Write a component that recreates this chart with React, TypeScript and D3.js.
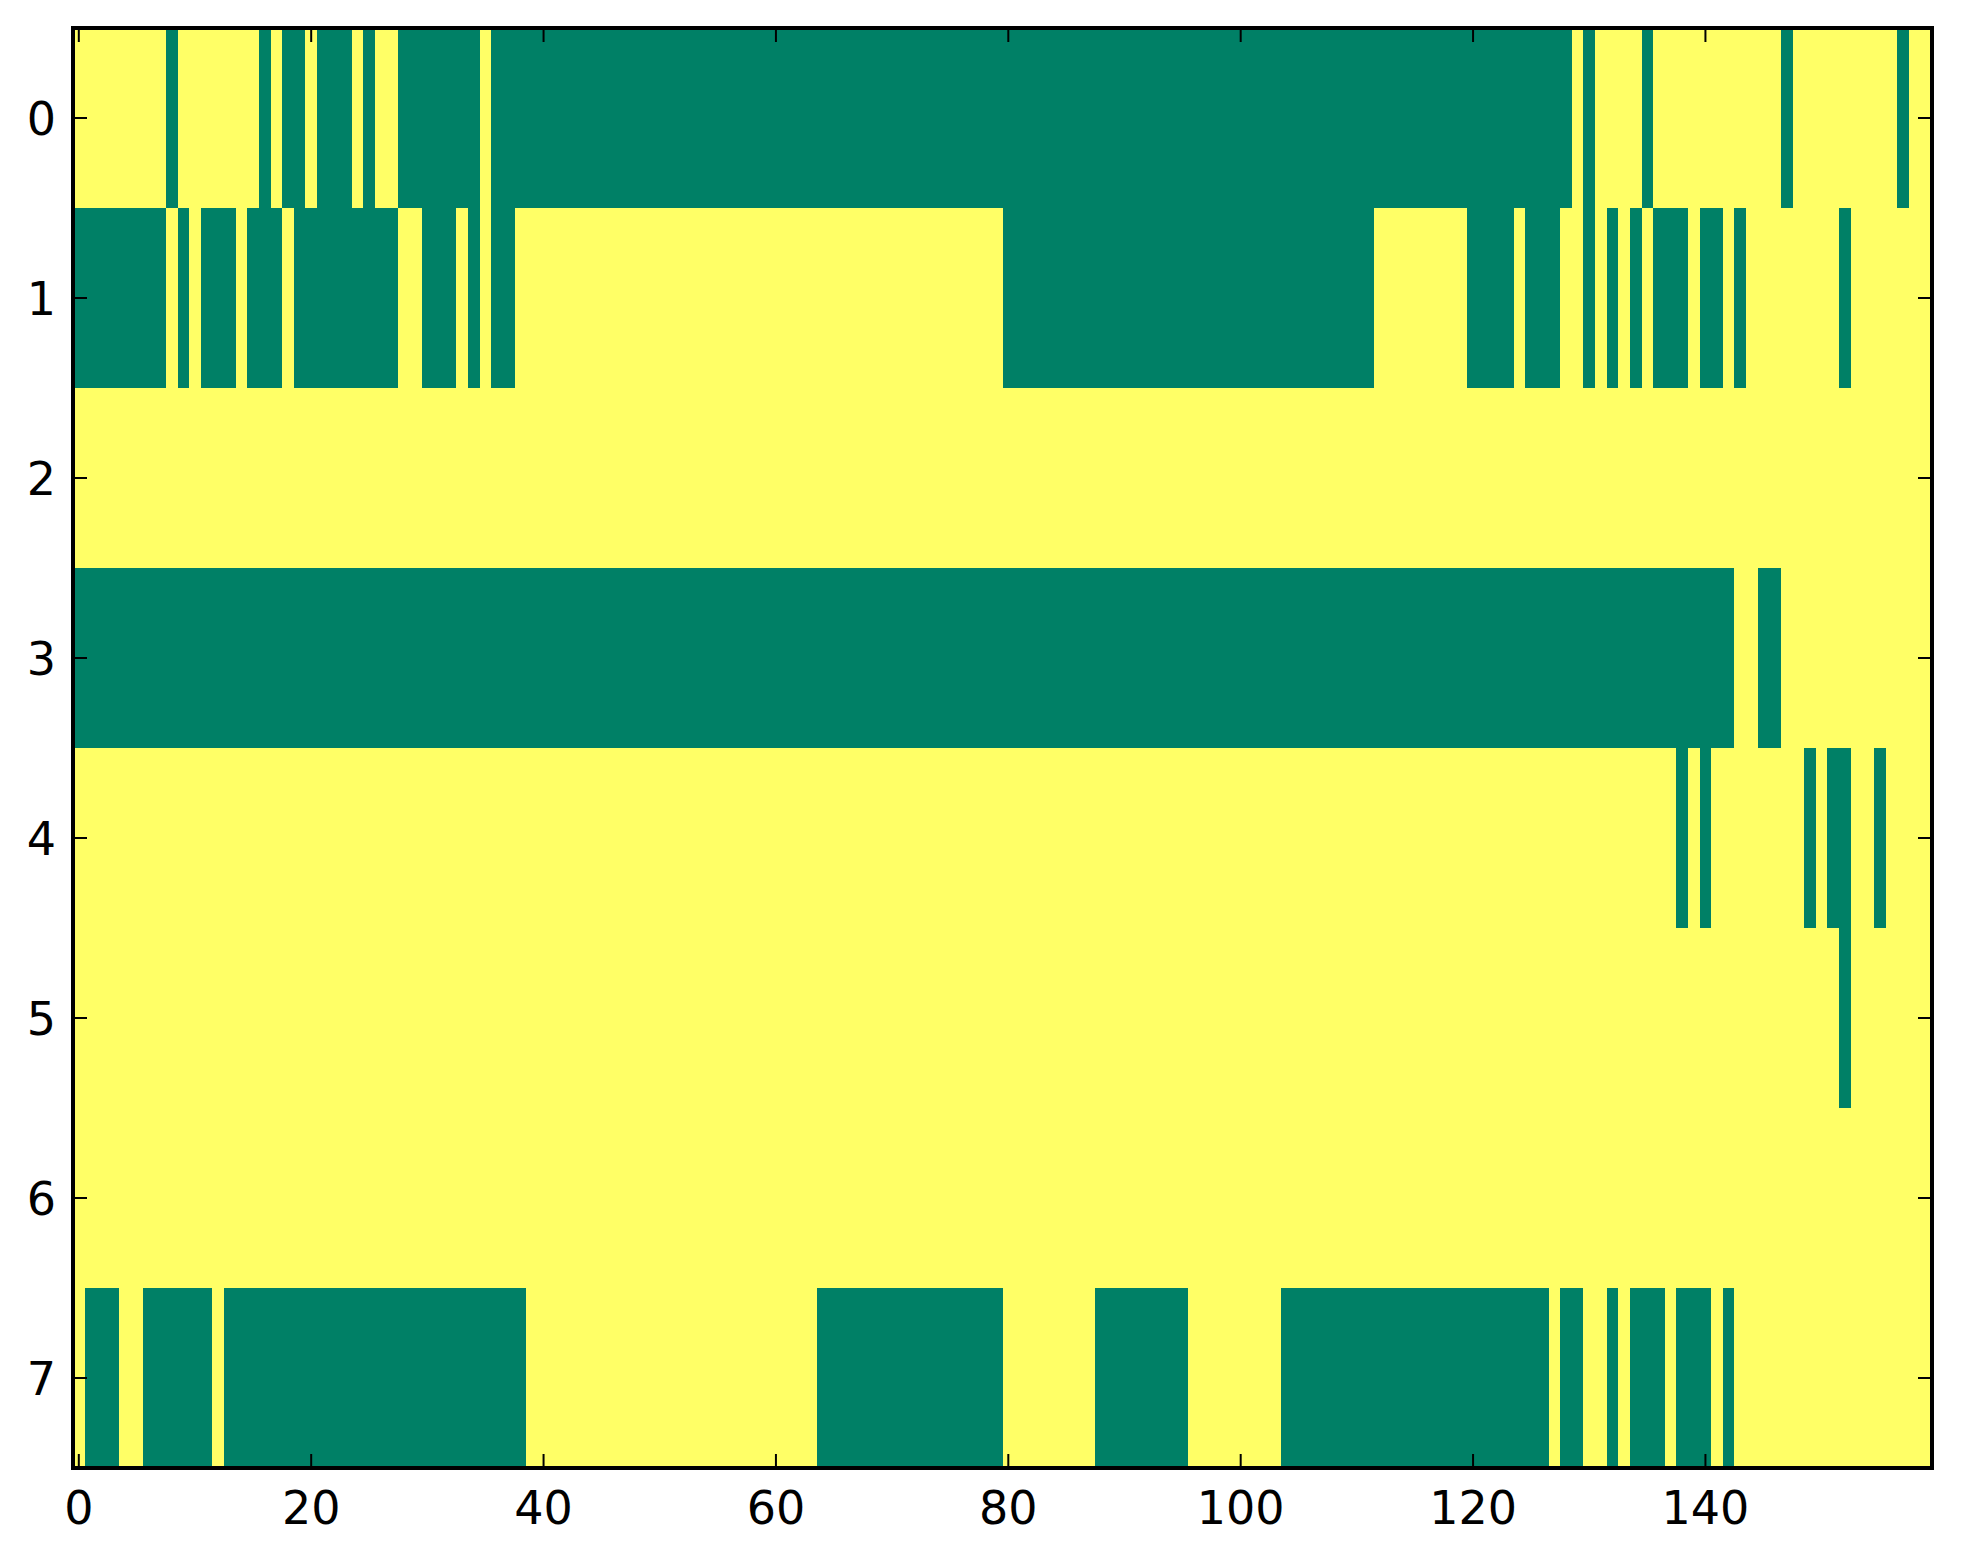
import React from "react";
import * as d3 from "d3";

// Green (value 0) runs per row, inclusive column ranges; everything else is value 1 (yellow)
const nCols = 160;
const rowLabels = [0, 1, 2, 3, 4, 5, 6, 7];
const row0Runs: [number, number][] = [[8, 8], [16, 16], [18, 19], [21, 23], [25, 25], [28, 34], [36, 128], [130, 130], [135, 135], [147, 147], [157, 157]];
const row1Runs: [number, number][] = [[0, 7], [9, 9], [11, 13], [15, 17], [19, 27], [30, 32], [34, 34], [36, 37], [80, 111], [120, 123], [125, 127], [130, 130], [132, 132], [134, 134], [136, 138], [140, 141], [143, 143], [152, 152]];
const row2Runs: [number, number][] = [];
const row3Runs: [number, number][] = [[0, 142], [145, 146]];
const row4Runs: [number, number][] = [[138, 138], [140, 140], [149, 149], [151, 152], [155, 155]];
const row5Runs: [number, number][] = [[152, 152]];
const row6Runs: [number, number][] = [];
const row7Runs: [number, number][] = [[1, 3], [6, 11], [13, 38], [64, 79], [88, 95], [104, 126], [128, 129], [132, 132], [134, 136], [138, 140], [142, 142]];
const xTicks = [0, 20, 40, 60, 80, 100, 120, 140];
const yTicks = [0, 1, 2, 3, 4, 5, 6, 7];

const allRuns = [row0Runs, row1Runs, row2Runs, row3Runs, row4Runs, row5Runs, row6Runs, row7Runs];

// build matrix
const matrix: number[][] = allRuns.map((runs) => {
  const r = new Array(nCols).fill(1);
  runs.forEach(([a, b]) => {
    for (let c = a; c <= b; c++) r[c] = 0;
  });
  return r;
});

// compress matrix rows into runs of equal value for drawing
type Seg = { row: number; start: number; end: number; v: number };
const segs: Seg[] = [];
matrix.forEach((r, ri) => {
  let s = 0;
  for (let c = 1; c <= nCols; c++) {
    if (c === nCols || r[c] !== r[s]) {
      segs.push({ row: ri, start: s, end: c - 1, v: r[s] });
      s = c;
    }
  }
});

const W = 1963;
const H = 1564;
const L = 73, R = 1932, T = 28, B = 1468;

export default function App() {
  const x = d3.scaleLinear().domain([-0.5, nCols - 0.5]).range([L, R]);
  const y = d3.scaleLinear().domain([-0.5, rowLabels.length - 0.5]).range([T, B]);
  const color = d3.scaleLinear<string>().domain([0, 1]).range(["#008066", "#ffff66"]);
  const tickLen = 14;
  const font = "DejaVu Sans, sans-serif";
  return (
    <svg width={W} height={H} style={{ position: "absolute", left: 0, top: 0, background: "#fff" }}>
      <g shapeRendering="crispEdges">
        {segs.map((s, i) => (
          <rect
            key={i}
            x={x(s.start - 0.5)}
            y={y(s.row - 0.5)}
            width={x(s.end + 0.5) - x(s.start - 0.5)}
            height={y(s.row + 0.5) - y(s.row - 0.5)}
            fill={color(s.v)}
          />
        ))}
      </g>
      {xTicks.map((t) => (
        <g key={"x" + t}>
          <line x1={x(t)} x2={x(t)} y1={B} y2={B - tickLen} stroke="#000" strokeWidth={2} />
          <line x1={x(t)} x2={x(t)} y1={T} y2={T + tickLen} stroke="#000" strokeWidth={2} />
          <text x={x(t)} y={1524} textAnchor="middle" fontFamily={font} fontSize={46} fill="#000">
            {t}
          </text>
        </g>
      ))}
      {yTicks.map((t) => (
        <g key={"y" + t}>
          <line x1={L} x2={L + tickLen} y1={y(t)} y2={y(t)} stroke="#000" strokeWidth={2} />
          <line x1={R} x2={R - tickLen} y1={y(t)} y2={y(t)} stroke="#000" strokeWidth={2} />
          <text x={56} y={y(t)} dy="0.36em" textAnchor="end" fontFamily={font} fontSize={46} fill="#000">
            {t}
          </text>
        </g>
      ))}
      <rect x={L} y={T} width={R - L} height={B - T} fill="none" stroke="#000" strokeWidth={4} />
    </svg>
  );
}
